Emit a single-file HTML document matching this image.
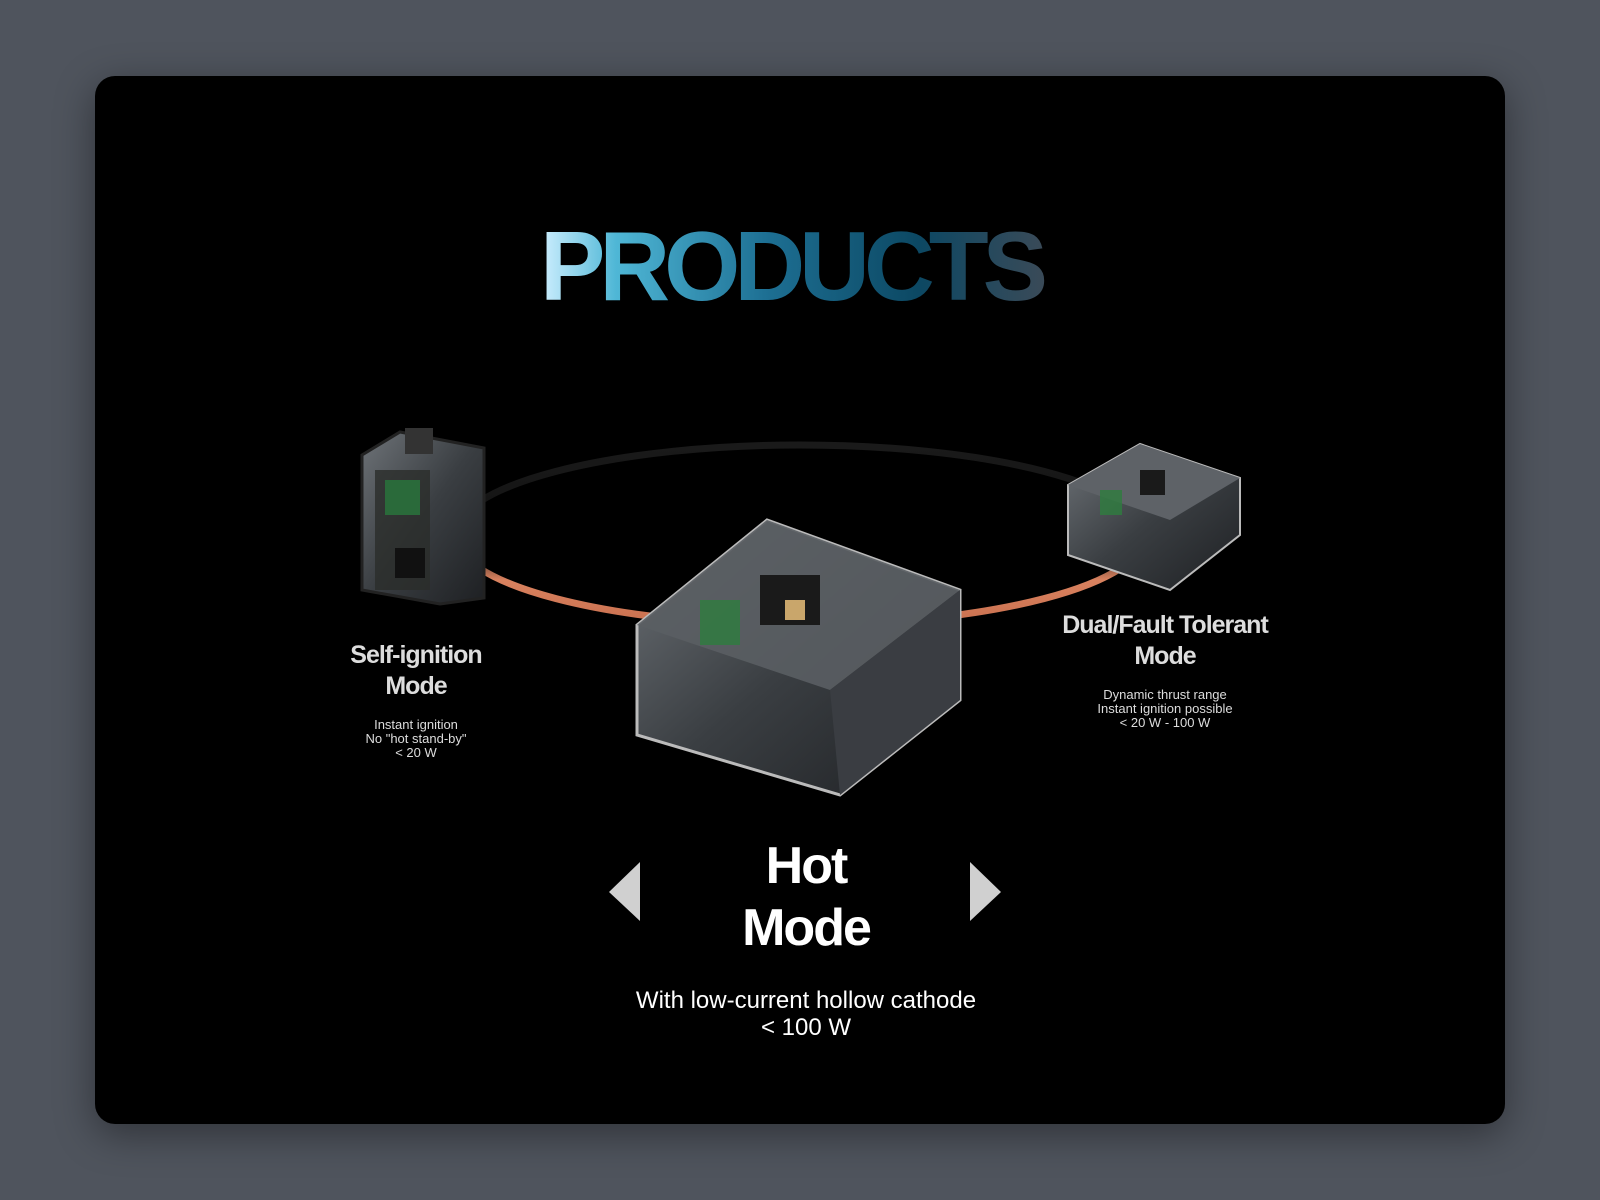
<!DOCTYPE html>
<html><head><meta charset="utf-8"><style>
html,body{margin:0;padding:0;width:1600px;height:1200px;background:#4f545d;overflow:hidden;font-family:"Liberation Sans",sans-serif}
.card{position:absolute;left:95px;top:76px;width:1410px;height:1048px;background:#000;border-radius:20px;box-shadow:0 10px 40px rgba(0,0,0,.4)}
.t{position:absolute;color:#fff;text-align:center;font-weight:bold}
</style></head><body>
<div class="card"></div>
<svg width="1600" height="1200" style="position:absolute;left:0;top:0">
<defs>
<linearGradient id="pg" x1="0" x2="1" y1="0" y2="0">
<stop offset="0" stop-color="#cfefff"/><stop offset="0.15" stop-color="#4fb7d6"/><stop offset="0.45" stop-color="#1d6f93"/><stop offset="0.75" stop-color="#0c4863"/><stop offset="1" stop-color="#3a4a58"/></linearGradient>
<linearGradient id="ring" x1="0" x2="0" y1="0" y2="1">
<stop offset="0" stop-color="#1a1a1a"/><stop offset="0.55" stop-color="#111"/><stop offset="0.75" stop-color="#d9825f"/><stop offset="1" stop-color="#c9704f"/></linearGradient>
<linearGradient id="box" x1="0" x2="1" y1="0" y2="1">
<stop offset="0" stop-color="#6e7378"/><stop offset="0.5" stop-color="#3a3e42"/><stop offset="1" stop-color="#1e2023"/></linearGradient>
</defs>
<text x="791" y="300" text-anchor="middle" font-family="Liberation Sans" font-weight="bold" font-size="98" letter-spacing="-6" fill="url(#pg)">PRODUCTS</text>
<ellipse cx="800" cy="535" rx="345" ry="90" fill="none" stroke="url(#ring)" stroke-width="7"/>
<!-- left box -->
<polygon points="362,455 400,432 484,448 484,598 440,604 362,590" fill="url(#box)" stroke="#222" stroke-width="3"/>
<rect x="375" y="470" width="55" height="120" fill="#2a2d2a" opacity=".8"/>
<rect x="385" y="480" width="35" height="35" fill="#2a6a3a"/>
<rect x="395" y="548" width="30" height="30" fill="#111"/>
<rect x="405" y="428" width="28" height="26" fill="#333"/>
<!-- center box -->
<polygon points="637,625 767,520 960,590 960,700 840,795 637,735" fill="url(#box)" stroke="#bbb" stroke-width="3"/>
<polygon points="637,625 767,520 960,590 830,690" fill="#5a5e63" opacity=".9"/>
<polygon points="830,690 960,590 960,700 840,795" fill="#3a3d42"/>
<rect x="700" y="600" width="40" height="45" fill="#2e7d3e" opacity=".8"/>
<rect x="760" y="575" width="60" height="50" fill="#1a1a1a"/>
<rect x="785" y="600" width="20" height="20" fill="#c9a66b"/>
<!-- right box -->
<polygon points="1068,485 1140,444 1240,478 1240,535 1170,590 1068,555" fill="url(#box)" stroke="#bbb" stroke-width="2"/>
<polygon points="1068,485 1140,444 1240,478 1170,520" fill="#5e6267"/>
<rect x="1100" y="490" width="22" height="25" fill="#2e7d3e" opacity=".8"/>
<rect x="1140" y="470" width="25" height="25" fill="#1a1a1a"/>
<!-- arrows -->
<polygon points="640,862 640,921 609,892" fill="#d0d0d0"/>
<polygon points="970,862 970,921 1001,892" fill="#d0d0d0"/>
</svg>
<div class="t" style="left:316px;top:640px;width:200px;font-size:25px;line-height:31px;color:#ddd;letter-spacing:-1px">Self-ignition<br>Mode</div>
<div class="t" style="left:316px;top:718px;width:200px;font-size:13px;line-height:14px;font-weight:normal;color:#ddd">Instant ignition<br>No "hot stand-by"<br>&lt; 20 W</div>
<div class="t" style="left:1015px;top:610px;width:300px;font-size:25px;line-height:31px;color:#ddd;letter-spacing:-1px">Dual/Fault Tolerant<br>Mode</div>
<div class="t" style="left:1015px;top:688px;width:300px;font-size:13px;line-height:14px;font-weight:normal;color:#ddd">Dynamic thrust range<br>Instant ignition possible<br>&lt; 20 W - 100 W</div>
<div class="t" style="left:656px;top:835px;width:300px;font-size:52px;line-height:62px;letter-spacing:-2px">Hot<br>Mode</div>
<div class="t" style="left:556px;top:987px;width:500px;font-size:24px;line-height:27px;font-weight:normal">With low-current hollow cathode<br>&lt; 100 W</div>
</body></html>
